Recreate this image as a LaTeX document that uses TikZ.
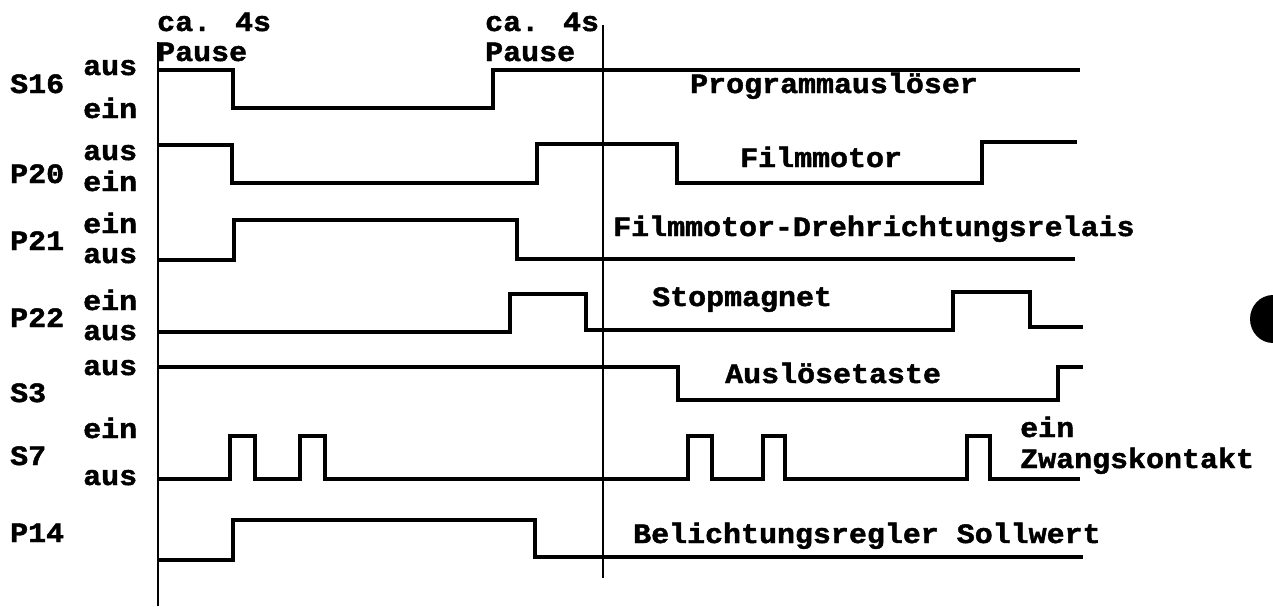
\documentclass[tikz,border=0pt]{standalone}
\usepackage{fontspec}
\newfontfamily\tw{Liberation Mono}[FakeStretch=1.07, BoldFeatures={FakeBold=1.6}]
\tikzset{
  lbl/.style={font=\tw\bfseries\fontsize{28}{30}\selectfont, inner sep=0pt, anchor=base west},
  wave/.style={line width=3.6pt, line join=miter, line cap=butt},
  axis/.style={line width=2pt},
}
\begin{document}
\begin{tikzpicture}[x=1pt,y=-1pt]
\useasboundingbox (0,0) rectangle (1273,606);
% axes
\draw[axis] (158,42) coordinate (a1t) -- (158,606) coordinate (a1b);
\draw[axis] (603,25) coordinate (a2t) -- (603,578) coordinate (a2b);
% top labels
\node[lbl] (ca1) at (157,31) {ca. 4s};
\node[lbl] (pa1) at (157,61) {Pause};
\node[lbl] (ca2) at (485,31) {ca. 4s};
\node[lbl] (pa2) at (485,61) {Pause};
% left labels
\node[lbl] (s16) at (10,93) {S16};
\node[lbl] (s16a) at (83,75) {aus};
\node[lbl] (s16e) at (83,118) {ein};
\node[lbl] (p20) at (10,183) {P20};
\node[lbl] (p20a) at (83,160) {aus};
\node[lbl] (p20e) at (83,191) {ein};
\node[lbl] (p21) at (10,250) {P21};
\node[lbl] (p21e) at (83,233) {ein};
\node[lbl] (p21a) at (83,263) {aus};
\node[lbl] (p22) at (10,327) {P22};
\node[lbl] (p22e) at (83,310) {ein};
\node[lbl] (p22a) at (83,340) {aus};
\node[lbl] (s3) at (10,402) {S3};
\node[lbl] (s3a) at (83,375) {aus};
\node[lbl] (s7) at (10,465) {S7};
\node[lbl] (s7e) at (83,438) {ein};
\node[lbl] (s7a) at (83,485) {aus};
\node[lbl] (p14) at (10,542) {P14};
% right labels
\node[lbl] (t1) at (690,93) {Programmauslöser};
\node[lbl] (t2) at (740,167) {Filmmotor};
\node[lbl] (t3) at (613,236) {Filmmotor-Drehrichtungsrelais};
\node[lbl] (t4) at (652,306) {Stopmagnet};
\node[lbl] (t5) at (725,383) {Auslösetaste};
\node[lbl] (t6a) at (1020,437) {ein};
\node[lbl] (t6b) at (1020,468) {Zwangskontakt};
\node[lbl] (t7) at (633,543) {Belichtungsregler Sollwert};
% waveforms
\draw[wave] (158,70) -- (233,70) -- (233,108) -- (493,108) -- (493,70) -- (1080,70);
\draw[wave] (158,145) -- (232,145) -- (232,183) -- (537,183) -- (537,144) -- (677,144) -- (677,183) -- (982,183) -- (982,142) -- (1077,142);
\draw[wave] (158,260) -- (234,260) -- (234,220) -- (517,220) -- (517,259) -- (1075,259);
\draw[wave] (158,332) -- (510,332) -- (510,294) -- (586,294) -- (586,330) -- (953,330) -- (953,292) -- (1030,292) -- (1030,327) -- (1083,327);
\draw[wave] (158,367) -- (678,367) -- (678,400) -- (1058,400) -- (1058,367) -- (1083,367);
\draw[wave] (158,479) -- (230,479) -- (230,436) -- (255,436) -- (255,479) -- (300,479) -- (300,436) -- (325,436) -- (325,479) -- (688,479) -- (688,436) -- (712,436) -- (712,479) -- (763,479) -- (763,436) -- (785,436) -- (785,479) -- (967,479) -- (967,436) -- (990,436) -- (990,479) -- (1080,479);
\draw[wave] (158,560) -- (233,560) -- (233,520) -- (535,520) -- (535,557) -- (1083,557);
% dot at right edge
\fill (1273,319) ellipse [x radius=23, y radius=24];
\end{tikzpicture}
\end{document}
